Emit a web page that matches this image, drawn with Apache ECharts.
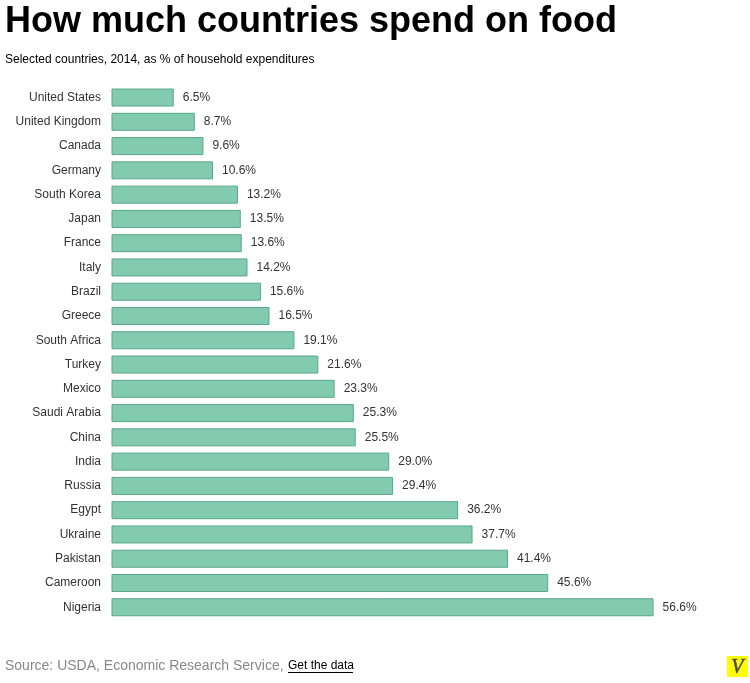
<!DOCTYPE html>
<html><head><meta charset="utf-8">
<style>html,body{margin:0;padding:0;background:#fff}#c{width:750px;height:683px}</style>
<script src="https://cdn.jsdelivr.net/npm/echarts@6/dist/echarts.min.js"></script>
</head><body><div id="c"></div>
<script>
const countries=["United States","United Kingdom","Canada","Germany","South Korea","Japan","France","Italy","Brazil","Greece","South Africa","Turkey","Mexico","Saudi Arabia","China","India","Russia","Egypt","Ukraine","Pakistan","Cameroon","Nigeria"];
const shares=[6.5,8.7,9.6,10.6,13.2,13.5,13.6,14.2,15.6,16.5,19.1,21.6,23.3,25.3,25.5,29.0,29.4,36.2,37.7,41.4,45.6,56.6];
const font='"Liberation Sans", Arial, sans-serif';
const chart=echarts.init(document.getElementById('c'),null,{renderer:'canvas'});
chart.setOption({
  animation:false,
  backgroundColor:'#fff',
  grid:{left:111.5,top:85.4,width:574.6,height:534,containLabel:false},
  xAxis:{type:'value',min:0,max:60,show:false},
  yAxis:{type:'category',inverse:true,data:countries,
    axisLine:{show:false},axisTick:{show:false},
    axisLabel:{color:'#333',fontFamily:font,fontSize:12,margin:10.5}},
  series:[{type:'bar',data:shares,barWidth:18,
    itemStyle:{color:'#83cbb0',borderColor:'#5aa58a',borderWidth:1},
    label:{show:true,position:'right',distance:9,color:'#333',fontFamily:font,fontSize:12,
      formatter:p=>p.value.toFixed(1)+'%'}}],
  graphic:[
    {type:'text',left:5,top:4,style:{text:'How much countries spend on food',font:'bold 36px '+font,fill:'#000'}},
    {type:'text',left:5,top:54,style:{text:'Selected countries, 2014, as % of household expenditures',font:'12px '+font,fill:'#000'}},
    {type:'text',left:5,top:659,style:{text:'Source: USDA, Economic Research Service,',font:'14px '+font,fill:'#888'}},
    {type:'text',left:288,top:660,style:{text:'Get the data',font:'12px '+font,fill:'#000'}},
    {type:'rect',shape:{x:288,y:672,width:65,height:1},style:{fill:'#000'}},
    {type:'rect',shape:{x:727,y:656,width:21,height:21},style:{fill:'#ffff00'}},
    {type:'text',left:731,top:657,style:{text:'V',font:'italic 20px "Liberation Serif", serif',fill:'#4a4560',stroke:'#4a4560',lineWidth:0.5}}
  ]
});
</script></body></html>
